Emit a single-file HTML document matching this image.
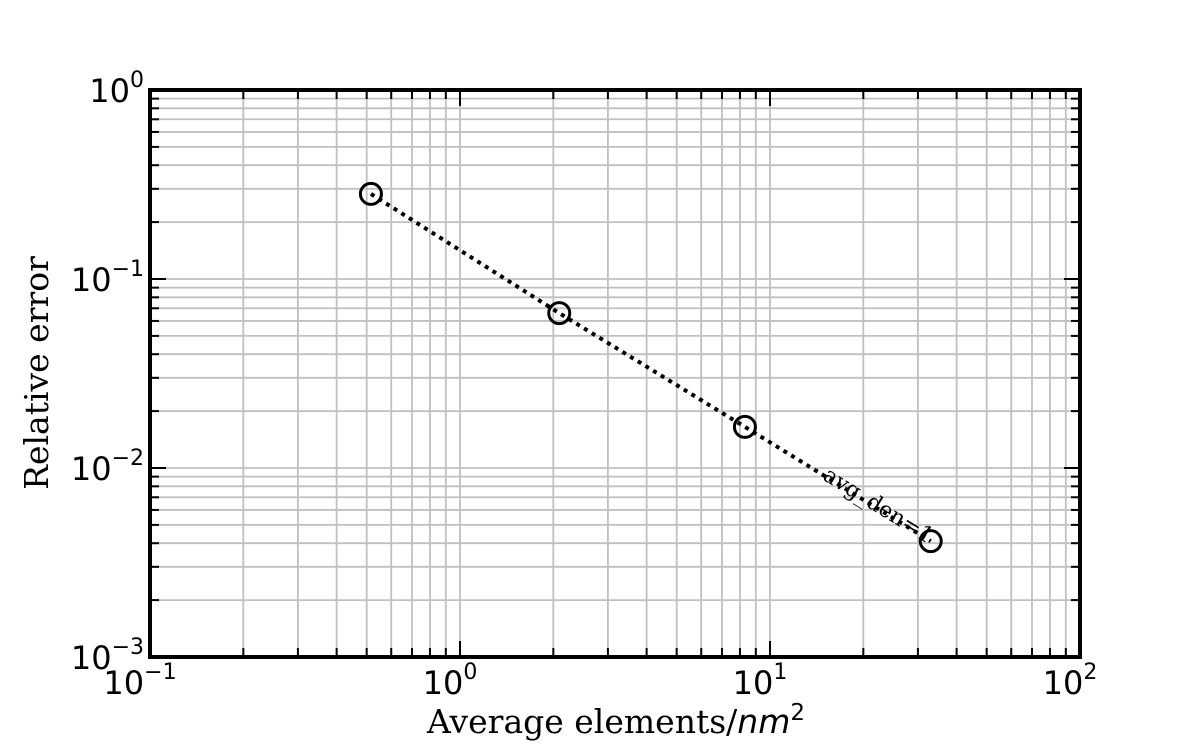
<!DOCTYPE html>
<html><head><meta charset="utf-8"><style>
html,body{margin:0;padding:0;background:#fff;}
svg{display:block;}
.tk{font-family:"DejaVu Sans","Liberation Sans",sans-serif;font-size:32px;fill:#000;}
.sup{font-size:22px;}
.lab{font-family:"DejaVu Serif","Liberation Serif",serif;font-size:33px;fill:#000;}
.inl{font-family:"DejaVu Serif","Liberation Serif",serif;font-size:22px;fill:#000;}
</style></head><body>
<svg id="chart" width="1200" height="750" viewBox="0 0 1200 750">
<g id="grid"></g>
<g id="ticks"></g>
<g id="series"></g>
<rect x="150" y="90" width="930" height="567" fill="none" stroke="#000" stroke-width="4"/>
<g id="labels"></g>
<text class="lab" x="616" y="733" text-anchor="middle">Average elements/<tspan font-family="DejaVu Sans" font-style="italic">nm</tspan><tspan font-family="DejaVu Sans" style="font-size:23px" dy="-13">2</tspan></text>
<text class="lab" transform="translate(48,373) rotate(-90)" text-anchor="middle">Relative error</text>
</svg>
<script>
const xValues = [0.516, 2.09, 8.3, 33.0];
const yValues = [0.282, 0.066, 0.0165, 0.0041];
const xDecades = [-1, 0, 1, 2];
const yDecades = [-3, -2, -1, 0];
const seriesLabel = "avg_den=1";

const L=150,R=1080,T=90,B=657;
const xs=v=>L+(Math.log10(v)+1)/3*(R-L);
const ys=v=>B-(Math.log10(v)+3)/3*(B-T);
const NS="http://www.w3.org/2000/svg";
function mk(tag,attrs,parent){const e=document.createElementNS(NS,tag);for(const k in attrs)e.setAttribute(k,attrs[k]);parent.appendChild(e);return e;}
const grid=document.getElementById('grid'),ticks=document.getElementById('ticks'),labels=document.getElementById('labels'),series=document.getElementById('series');
for(let d=-1;d<2;d++){for(let m=1;m<10;m++){const v=m*Math.pow(10,d);const x=xs(v);const maj=m===1;
 if(x>L+1){const g=mk('line',{x1:x,x2:x,y1:T,y2:B,stroke:'#c0c0c0','stroke-width':1.8},grid);}
 const len=maj?16:9;
 const t1=mk('line',{x1:x,x2:x,y1:B,y2:B-len,stroke:'#000','stroke-width':2},ticks);
 const t2=mk('line',{x1:x,x2:x,y1:T,y2:T+len,stroke:'#000','stroke-width':2},ticks);
}}
for(let d=-3;d<0;d++){for(let m=1;m<10;m++){const v=m*Math.pow(10,d);const y=ys(v);const maj=m===1;
 if(y<B-1){const g=mk('line',{x1:L,x2:R,y1:y,y2:y,stroke:'#c0c0c0','stroke-width':1.8},grid);}
 const len=maj?16:9;
 const t1=mk('line',{x1:L,x2:L+len,y1:y,y2:y,stroke:'#000','stroke-width':2},ticks);
 const t2=mk('line',{x1:R,x2:R-len,y1:y,y2:y,stroke:'#000','stroke-width':2},ticks);
}}
xDecades.forEach(d=>{const t=mk('text',{class:'tk',x:xs(Math.pow(10,d))-10,y:694,'text-anchor':'middle'},labels);
 
 t.innerHTML='10<tspan class="sup" dy="-15">'+(d<0?'\u2212'+(-d):d)+'</tspan>';});
yDecades.forEach(d=>{const t=mk('text',{class:'tk',x:144,y:ys(Math.pow(10,d))+12,'text-anchor':'end'},labels);
 
 t.innerHTML='10<tspan class="sup" dy="-15">'+(d<0?'\u2212'+(-d):d)+'</tspan>';});
const pts=xValues.map((v,i)=>[xs(v),ys(yValues[i])]);
const pl=mk('polyline',{points:pts.map(p=>p.join(',')).join(' '),fill:'none',stroke:'#000','stroke-width':4,'stroke-dasharray':'4,5'},series);

pts.forEach(p=>{const c=mk('circle',{cx:p[0],cy:p[1],r:10.5,fill:'none',stroke:'#000','stroke-width':3},series);
 });
const a=pts[2],b=pts[3];const ang=Math.atan2(b[1]-a[1],b[0]-a[0])*180/Math.PI;
const lx=a[0]+(b[0]-a[0])*0.71,ly=a[1]+(b[1]-a[1])*0.71;
const lt=mk('text',{class:'inl',x:0,y:4,'text-anchor':'middle',transform:`translate(${lx},${ly}) rotate(${ang})`},labels);

lt.textContent=seriesLabel;
</script>
</body></html>
